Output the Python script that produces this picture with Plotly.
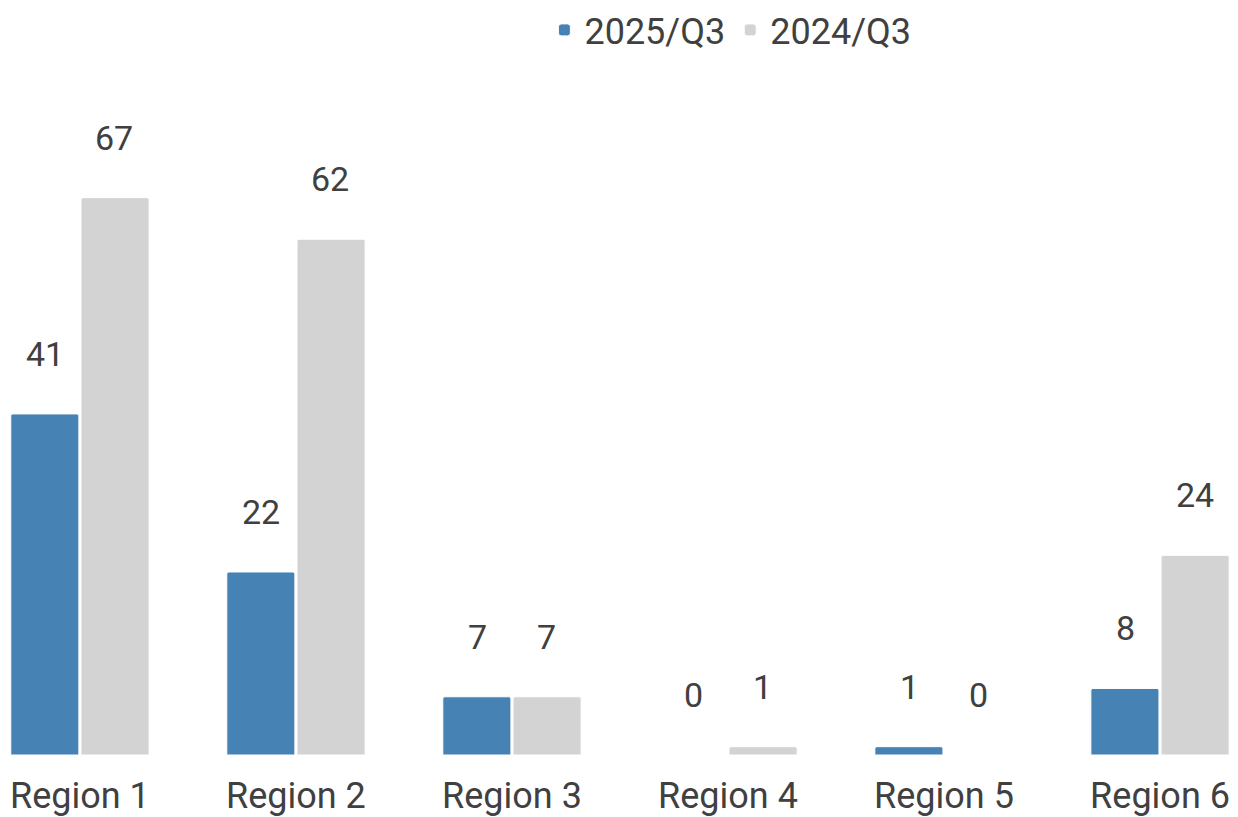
import plotly.graph_objects as go

categories = ["Region 1", "Region 2", "Region 3", "Region 4", "Region 5", "Region 6"]
series_2025 = [41, 22, 7, 0, 1, 8]
series_2024 = [67, 62, 7, 1, 0, 24]
series_names = ["2025/Q3", "2024/Q3"]
colors = ["#4682B4", "#D3D3D3"]

FONT = "Roboto, Arial, sans-serif"
TEXT_COLOR = "#404040"

fig = go.Figure()
for name, vals, col in zip(series_names, [series_2025, series_2024], colors):
    fig.add_trace(go.Bar(
        x=categories, y=vals, name=name,
        marker=dict(color=col, line=dict(color="white", width=1), cornerradius=2),
        hoverinfo="skip",
    ))

# value labels, placed above each bar
offsets = [-34.5, 34.5]
for vals, dx in zip([series_2025, series_2024], offsets):
    for c, v in zip(categories, vals):
        fig.add_annotation(x=c, y=v, text=str(v), showarrow=False,
                           xshift=dx, yshift=60, yanchor="middle",
                           font=dict(family=FONT, size=34, color=TEXT_COLOR))

fig.update_layout(
    width=1238, height=817,
    margin=dict(l=0, r=0, t=80, b=60),
    paper_bgcolor="white", plot_bgcolor="white",
    barmode="group", bargap=0.35, bargroupgap=0.03,
    font=dict(family=FONT, size=36, color=TEXT_COLOR),
    showlegend=True,
    legend=dict(orientation="h", x=0.59, xanchor="center", y=1.078, yanchor="middle",
                font=dict(family=FONT, size=36, color=TEXT_COLOR),
                itemwidth=30, tracegroupgap=0),
    xaxis=dict(range=[-0.370, 5.361], showgrid=False, zeroline=False, showline=False,
               ticks="", ticklabelstandoff=16,
               tickfont=dict(family=FONT, size=36, color=TEXT_COLOR)),
    yaxis=dict(range=[0, 80.9], visible=False, showgrid=False, zeroline=False),
)

fig.write_html("out.html", config={"displayModeBar": False},
               post_script="document.body.style.margin='0';document.body.style.overflow='hidden';")
